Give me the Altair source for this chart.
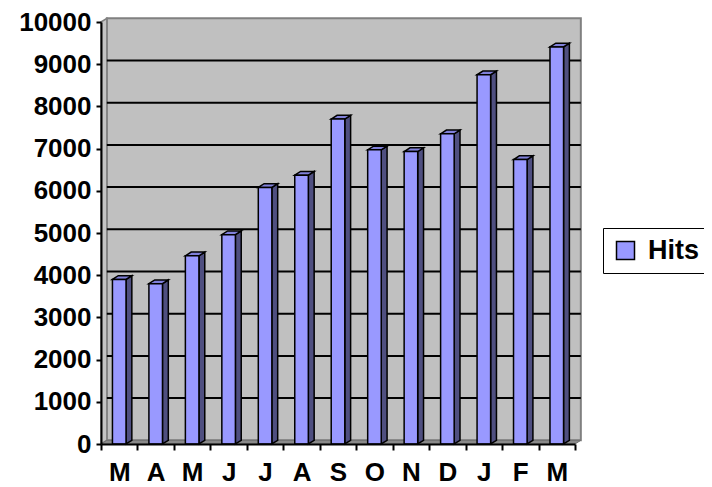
import json
import altair as alt
import pandas as pd

# ---- data ----
months = ["M", "A", "M", "J", "J", "A", "S", "O", "N", "D", "J", "F", "M"]
hits = [3900, 3800, 4460, 4960, 6080, 6370, 7700, 6970, 6930, 7350, 8750, 6740, 9410]
series_name = ["Hits"] * len(months)
y_ticks = list(range(0, 10001, 1000))

N = len(months)
YMAX = y_ticks[-1]

# ---- geometry / style ----
W, H = 474, 422
HW = 0.186          # half width of a column front (in category units)
DX, DY = 0.16, 88   # 3-D depth offset (x in category units, y in value units)
FONT = "Liberation Sans"
FRONT, SIDE, TOP = "#9999FF", "#4F4F80", "#8080DA"

df = pd.DataFrame({"idx": list(range(N)), "month": months, "hits": hits, "series": series_name})
frame = pd.DataFrame({"x0": [0], "x1": [N], "y0": [0], "y1": [YMAX]})
grid = pd.DataFrame({"g": y_ticks[1:-1]})

xscale = alt.Scale(domain=[0, N], nice=False, zero=False)
yscale = alt.Scale(domain=[0, YMAX], nice=False)

label_expr = "datum.value < %d ? %s[datum.value] : ''" % (N, json.dumps(months))
xaxis = alt.Axis(values=list(range(N + 1)), labelExpr=label_expr, labelOffset=W / N / 2,
                 title=None, grid=False, tickSize=6, tickWidth=2, tickColor="black",
                 domainColor="black", domainWidth=2, labelFont=FONT, labelFontWeight="bold",
                 labelFontSize=26, labelColor="black", labelPadding=9, labelFlush=False,
                 labelOverlap=False, labelBound=False, zindex=1)
yaxis = alt.Axis(values=y_ticks, format="d", title=None, grid=False, tickSize=5, tickWidth=2,
                 tickColor="black", domainColor="black", domainWidth=2, labelFont=FONT,
                 labelFontWeight="bold", labelFontSize=26, labelColor="black", labelPadding=5,
                 labelOverlap=False, zindex=1)


def X(f):
    return alt.X(f, scale=xscale, axis=xaxis)


def Y(f):
    return alt.Y(f, scale=yscale, axis=yaxis, stack=None)


def poly(chart, fill, stroke, sw):
    """Parallelogram-like polygons drawn as vertical areas, one group per 'grp'."""
    return chart.transform_flatten(["pts"]).transform_calculate(
        px="datum.pts[0]", py="datum.pts[1]", py2="datum.pts[2]"
    ).mark_area(fill=fill, stroke=stroke, strokeWidth=sw, orient="vertical",
                interpolate="linear").encode(
        x=X("px:Q"), y=Y("py:Q"), y2="py2:Q", detail="grp:N")


# back wall
wall = alt.Chart(frame).transform_calculate(
    wx0=f"datum.x0 + {DX}", wx1=f"datum.x1 + {DX}",
    wy0=f"datum.y0 + {DY}", wy1=f"datum.y1 + {DY}"
).mark_rect(fill="#C0C0C0", stroke="#808080", strokeWidth=2).encode(
    x=X("wx0:Q"), x2="wx1:Q", y=Y("wy0:Q"), y2="wy1:Q")

# left side wall: corners [x, ytop, ybottom]
side_wall = poly(alt.Chart(frame).transform_calculate(
    grp="'L'",
    pts=f"[[datum.x0, datum.y1, datum.y0], [datum.x0 + {DX}, datum.y1 + {DY}, datum.y0 + {DY}]]"
), "#C4C4C4", "#808080", 1.5)

# floor
floor = poly(alt.Chart(frame).transform_calculate(
    grp="'F'",
    pts=(f"[[datum.x0, datum.y0, datum.y0], [datum.x0 + {DX}, datum.y0 + {DY}, datum.y0],"
         f" [datum.x1, datum.y0 + {DY}, datum.y0], [datum.x1 + {DX}, datum.y0 + {DY}, datum.y0 + {DY}]]")
), "#8A8A8A", "#707070", 1)

# gridlines on the back wall
gridlines = alt.Chart(grid).transform_calculate(
    gx0=f"{DX}", gx1=f"{N} + {DX}", gy=f"datum.g + {DY}"
).mark_rule(color="black", strokeWidth=2).encode(
    x=X("gx0:Q"), x2="gx1:Q", y=Y("gy:Q"))

# column side faces
bar_side = poly(alt.Chart(df).transform_calculate(
    grp="datum.idx",
    r=f"datum.idx + 0.5 + {HW}"
).transform_calculate(
    pts=f"[[datum.r, datum.hits, 0], [datum.r + {DX}, datum.hits + {DY}, {DY}]]"
), SIDE, "black", 1.5)

# column top faces
bar_top = poly(alt.Chart(df).transform_calculate(
    grp="datum.idx",
    l=f"datum.idx + 0.5 - {HW}", r=f"datum.idx + 0.5 + {HW}"
).transform_calculate(
    pts=(f"[[datum.l, datum.hits, datum.hits], [datum.l + {DX}, datum.hits + {DY}, datum.hits],"
         f" [datum.r, datum.hits + {DY}, datum.hits], [datum.r + {DX}, datum.hits + {DY}, datum.hits + {DY}]]")
), TOP, "black", 1.5)

# column front faces (carry the legend)
bar_front = alt.Chart(df).transform_calculate(
    xl=f"datum.idx + 0.5 - {HW}", xr=f"datum.idx + 0.5 + {HW}", z="0"
).mark_rect(stroke="black", strokeWidth=1.5).encode(
    x=X("xl:Q"), x2="xr:Q", y=Y("hits:Q"), y2="z:Q",
    color=alt.Color("series:N", scale=alt.Scale(range=[FRONT]),
                    legend=alt.Legend(title=None, orient="none", legendX=502, legendY=206,
                                      strokeColor="black", fillColor="white", padding=9,
                                      symbolType="square", symbolSize=324,
                                      symbolStrokeColor="black", symbolStrokeWidth=1.5,
                                      symbolOpacity=1,
                                      labelFont=FONT, labelFontWeight="bold",
                                      labelFontSize=27, labelColor="black", labelOffset=9)))

chart = alt.layer(wall, side_wall, floor, gridlines, bar_side, bar_top, bar_front).properties(
    width=W, height=H,
    autosize=alt.AutoSizeParams(type="none"),
    padding={"left": 93, "top": 14, "right": 129, "bottom": 43},
    background="white",
).configure_view(strokeWidth=0)

chart.save("out.html", embed_options={"renderer": "svg", "actions": False})
